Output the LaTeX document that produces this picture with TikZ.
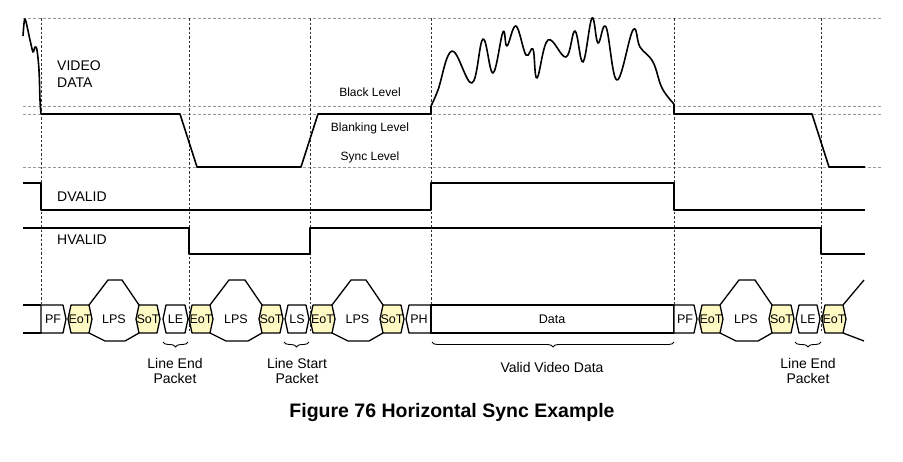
\documentclass[tikz,border=0pt]{standalone}
\usepackage{fontspec}
\setmainfont{Liberation Sans}
\usepackage{tikz}
\usetikzlibrary{decorations.pathreplacing}

\definecolor{paleyellow}{RGB}{255,250,196}

\tikzset{
  hgrid/.style={gray!80, line width=0.9pt, dash pattern=on 3pt off 2pt},
  vgrid/.style={black!80, line width=0.7pt, dash pattern=on 2.5pt off 2pt},
  wave/.style={black, line width=1.6pt, line join=round},
  pkt/.style={draw=black, line width=1.3pt, line join=round},
  sig/.style={font=\fontsize{14}{17}\selectfont, inner sep=0pt},
  lvl/.style={font=\fontsize{12}{14}\selectfont, inner sep=0pt},
  cell/.style={font=\fontsize{12.5}{14}\selectfont, inner sep=0pt},
  brc/.style={decorate, decoration={brace, mirror, amplitude=5pt}, line width=0.9pt}
}

\begin{document}
\begin{tikzpicture}[x=1pt, y=-1pt]
  \useasboundingbox (0,0) rectangle (903,461);

  % grid lines
  \foreach \yy in {18, 106, 114, 167}
    \draw[hgrid] (23,\yy) -- (881,\yy);
  \foreach \xx in {41, 189, 310, 431, 674, 821}
    \draw[vgrid] (\xx,18) -- (\xx,333);

  % video waveform
  \draw[wave] plot[smooth, tension=0.5] coordinates {
    (23,36) (25,19) (30,40) (33,52) (35,47) (37,50) (39,70) (40,100) (41,114)};
  \draw[wave] (41,114) -- (180,114) -- (197,167) -- (301,167) -- (318,114)
    -- (431,114) -- (431,106);
  \draw[wave] plot[smooth, tension=0.65] coordinates {
    (431,106) (438,90) (452,51) (472,83) (483,39) (493,73) (503,32) (507,46)
    (516,26) (526,55) (533,49) (537,78) (548,40) (566,57) (575,31) (583,62)
    (592,18) (598,43) (606,27) (617,80) (633,30) (640,47) (653,62) (662,88)
    (674,104)};
  \draw[wave] (674,104) -- (674,114) -- (812,114) -- (829,167) -- (865,167);

  % DVALID and HVALID
  \draw[wave] (23,183) -- (41,183) -- (41,210) -- (431,210) -- (431,183)
    -- (674,183) -- (674,210) -- (865,210);
  \draw[wave] (23,228) -- (189,228) -- (189,254) -- (310,254) -- (310,228)
    -- (821,228) -- (821,254) -- (865,254);

  % labels
  \node[sig, anchor=west, align=left] (video) at (57,74.5) {VIDEO\\DATA};
  \node[sig, anchor=west] (dvalid) at (57,197) {DVALID};
  \node[sig, anchor=west] (hvalid) at (57,240) {HVALID};
  \node[lvl] (black) at (370,92) {Black Level};
  \node[lvl] (blank) at (370,128) {Blanking Level};
  \node[lvl] (sync) at (370,157) {Sync Level};

  % packet row
  \draw[pkt] (23,305) -- (41,305);
  \draw[pkt] (23,333) -- (41,333);
  \draw[pkt, fill=white] (41,305) -- (63,305) -- (66,319) -- (63,333) -- (41,333) -- cycle;
  \node[cell] (pf1) at (53,319) {PF};
  \draw[pkt, fill=white] (406,319) -- (409,305) -- (431,305) -- (431,333) -- (409,333) -- cycle;
  \node[cell] (ph) at (419,319) {PH};
  \draw[pkt, fill=white] (431,305) rectangle (674,333);
  \node[cell] (data) at (552,319) {Data};
  \draw[pkt, fill=white] (674,305) -- (694,305) -- (697,319) -- (694,333) -- (674,333) -- cycle;
  \node[cell] (pf2) at (685,319) {PF};

  \foreach \a/\b/\txt/\col [count=\i] in {
      68/92/EoT/paleyellow, 136/160/SoT/paleyellow, 163/188/LE/white,
      189/213/EoT/paleyellow, 259/283/SoT/paleyellow, 285/309/LS/white,
      310/335/EoT/paleyellow, 380/404/SoT/paleyellow, 699/723/EoT/paleyellow,
      769/794/SoT/paleyellow, 796/820/LE/white, 822/846/EoT/paleyellow} {
    \draw[pkt, fill=\col] (\a,319) -- (\a+3,305) -- (\b-3,305) -- (\b,319)
      -- (\b-3,333) -- (\a+3,333) -- cycle;
    \node[cell] (hex\i) at ({(\a+\b)/2},319) {\txt};
  }

  \foreach \a/\b [count=\i] in {89/139, 210/262, 332/383, 720/772} {
    \draw[pkt] (\a,305) -- (\a+19,280) -- (\b-17,280) -- (\b,305);
    \draw[pkt] (\a,333) -- (\a+16,341) -- (\b-14,341) -- (\b,333);
    \node[cell] (lps\i) at ({(\a+\b)/2},319) {LPS};
  }
  \draw[pkt] (843,305) -- (864,280);
  \draw[pkt] (843,333) -- (864,341);

  % braces
  \draw[brc] (163,342) -- (188,342);
  \draw[brc] (284,342) -- (309,342);
  \draw[brc] (432,342) -- (674,342);
  \draw[brc] (795,342) -- (821,342);

  \node[sig, align=center, font=\fontsize{14}{15}\selectfont] (le1txt) at (175,370.5) {Line End\\Packet};
  \node[sig, align=center, font=\fontsize{14}{15}\selectfont] (lstxt) at (297,370.5) {Line Start\\Packet};
  \node[sig] (validtxt) at (552,367) {Valid Video Data};
  \node[sig, align=center, font=\fontsize{14}{15}\selectfont] (le2txt) at (808,370.5) {Line End\\Packet};

  % caption
  \node[font=\bfseries\fontsize{19.5}{22}\selectfont, inner sep=0pt] (title) at (452,412)
    {Figure 76 Horizontal Sync Example};
\end{tikzpicture}
\end{document}
